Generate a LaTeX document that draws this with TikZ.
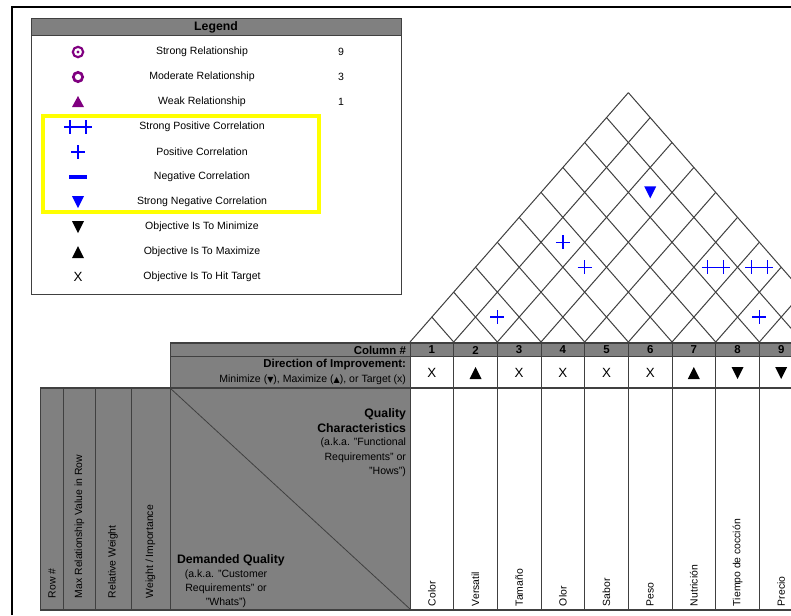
\documentclass[tikz,border=0pt]{standalone}
\usepackage{fontspec}
\setmainfont{Liberation Sans}
\newfontfamily\symfont{DejaVu Sans}
\definecolor{purp}{HTML}{800080}
\definecolor{cellgray}{HTML}{808080}
\definecolor{rulegray}{HTML}{404040}
\definecolor{hilite}{HTML}{FFFF00}
\definecolor{corr}{HTML}{0000FF}
\tikzset{
  strongrel/.pic={\draw[purp, line width=1.6pt] (0,0) circle[radius=3.9pt];
                  \fill[purp] (0,0) circle[radius=1.3pt];},
  modrel/.pic={\draw[purp, line width=2pt] (0,0) circle[radius=3.5pt];},
  weakrel/.pic={\fill[purp] (-6,5) -- (6,5) -- (0,-6) -- cycle;},
  dblplus/.pic={\draw[corr, line width=1pt] (-14,0) -- (14,0) (-8,-7) -- (-8,7) (8,-7) -- (8,7);},
  oneplus/.pic={\draw[corr, line width=1pt] (-7,0) -- (7,0) (0,-7) -- (0,7);},
  minusbar/.pic={\draw[corr, line width=2.4pt] (-9,0) -- (9,0);},
  bluedown/.pic={\fill[corr] (-6,-6) -- (6,-6) -- (0,6) -- cycle;},
  blackdown/.pic={\fill[black] (-6,-6) -- (6,-6) -- (0,6) -- cycle;},
  blackup/.pic={\fill[black] (-6,6) -- (6,6) -- (0,-6) -- cycle;},
  hitx/.pic={\node[font=\fontsize{10}{10}\selectfont] (-hx) at (0,0) {X};},
}
\begin{document}
\begin{tikzpicture}[x=0.75pt,y=-0.75pt,
  every node/.style={inner sep=0pt, outer sep=0pt},
  lgtext/.style={font=\fontsize{7.9}{9}\selectfont},
  hdbold/.style={font=\bfseries\fontsize{8.6}{9}\selectfont},
  bigbold/.style={font=\bfseries\fontsize{9.2}{10}\selectfont},
  smalltext/.style={font=\fontsize{7.9}{9}\selectfont},
  vlabel/.style={font=\fontsize{7.8}{9}\selectfont, rotate=90, anchor=west},
  thinrule/.style={draw=rulegray, line width=0.75pt},
  heavyrule/.style={draw=rulegray, line width=1.5pt},
  roofline/.style={draw=rulegray, line width=0.75pt},
]
\useasboundingbox (0,0) rectangle (791,615);
\fill[white] (0,0) rectangle (791,615);

% outer frame
\draw[black, line width=1.2pt] (12,615) -- (12,7) -- (791,7);

% ---------------- legend ----------------
\fill[cellgray] (31,18) rectangle (401,35);
\draw[thinrule] (31,18) rectangle (401,294);
\draw[thinrule] (31,35) -- (401,35);
\node[bigbold] (lghead) at (216,27) {Legend};

\foreach \yy/\sym/\txt/\num [count=\i] in {
  52/strongrel/Strong Relationship/9,
  77/modrel/Moderate Relationship/3,
  102/weakrel/Weak Relationship/1,
  127/dblplus/Strong Positive Correlation/,
  152/oneplus/Positive Correlation/,
  177/minusbar/Negative Correlation/,
  202/bluedown/Strong Negative Correlation/,
  227/blackdown/Objective Is To Minimize/,
  252/blackup/Objective Is To Maximize/,
  277/hitx/Objective Is To Hit Target/} {
  \pic (lgsym\i) at (78,\yy) {\sym};
  \node[lgtext] (lgtxt\i) at (202,\yy) {\txt};
  \node[lgtext] (lgnum\i) at (341,\yy) {\num};
}
\draw[hilite, line width=3pt] (43,116) rectangle (318.5,212);

% ---------------- roof (correlation matrix) ----------------
\def\cw{43.67}
\def\slope{1.142}
\begin{scope}
\clip (0,0) rectangle (791,615);
\foreach \k in {0,...,10} {
  \pgfmathsetmacro\xk{410+\k*\cw}
  \pgfmathsetmacro\xr{(\xk+410+10*\cw)/2}
  \pgfmathsetmacro\yr{342-(10-\k)*\cw/2*\slope}
  \pgfmathsetmacro\xl{(\xk+410)/2}
  \pgfmathsetmacro\yl{342-\k*\cw/2*\slope}
  \draw[roofline] (\xk,342) -- (\xr,\yr);
  \draw[roofline] (\xk,342) -- (\xl,\yl);
}
\foreach \ci/\cj/\sym in {3/9/bluedown, 2/6/oneplus, 3/6/oneplus, 6/9/dblplus,
                          7/10/dblplus, 2/3/oneplus, 8/9/oneplus} {
  \pgfmathsetmacro\px{410+(\ci+\cj-1)/2*\cw}
  \pgfmathsetmacro\py{342-(\cj-\ci)*\cw/2*\slope}
  \pic (corr\ci-\cj) at (\px,\py) {\sym};
}
\end{scope}

% ---------------- header rows ----------------
\fill[cellgray] (170,343) rectangle (791,356);
\fill[cellgray] (170,356) rectangle (410,387);
\fill[cellgray] (40,387) rectangle (410,610);

\begin{scope}
\clip (0,0) rectangle (791,615);
\foreach \k in {0,...,10} {
  \pgfmathsetmacro\xk{410+\k*\cw}
  \draw[thinrule] (\xk,343) -- (\xk,610);
}
\end{scope}
\draw[thinrule] (170,343) -- (170,610);
\foreach \xx in {40,63.5,95,131.5} {
  \draw[thinrule] (\xx,387) -- (\xx,610);
}
\draw[thinrule] (170,356) -- (791,356);
\draw[heavyrule] (170,343) -- (791,343);
\draw[heavyrule] (40,387.5) -- (791,387.5);
\draw[heavyrule] (40,610) -- (791,610);

\node[hdbold, anchor=east] (colhead) at (406,350) {Column \#};
\node[hdbold, anchor=east] (dirhead) at (406,364.5) {Direction of Improvement:};
\node[smalltext, anchor=east] (dirnote) at (406,380) {Minimize ({\symfont\fontsize{6}{7}\selectfont ▼}), Maximize ({\symfont\fontsize{6}{7}\selectfont ▲}), or Target (x)};

\foreach \n/\sym in {1/hitx,2/blackup,3/hitx,4/hitx,5/hitx,6/hitx,7/blackup,8/blackdown,9/blackdown} {
  \pgfmathsetmacro\cx{410+(\n-0.5)*\cw}
  \node[hdbold] (colnum\n) at (\cx,350) {\n};
  \pic (dir\n) at (\cx,373) {\sym};
}

% ---------------- corner cell ----------------
\draw[rulegray, line width=0.6pt] (170,388) -- (410,609);
\node[bigbold, anchor=east] (qc1) at (406,414) {Quality};
\node[bigbold, anchor=east] (qc2) at (406,428.5) {Characteristics};
\node[smalltext, anchor=east] (qc3) at (406,443) {(a.k.a. "Functional};
\node[smalltext, anchor=east] (qc4) at (406,457.5) {Requirements" or};
\node[smalltext, anchor=east] (qc5) at (406,472) {"Hows")};

\node[bigbold, anchor=west] (dq1) at (177,560) {Demanded Quality};
\node[smalltext] (dq2) at (226,575) {(a.k.a. "Customer};
\node[smalltext] (dq3) at (226,589) {Requirements" or};
\node[smalltext] (dq4) at (226,603) {"Whats")};

% ---------------- vertical labels ----------------
\node[vlabel] (rowno) at (52,598) {Row \#};
\node[vlabel] (maxrel) at (79.5,598) {Max Relationship Value in Row};
\node[vlabel] (relw) at (113,598) {Relative Weight};
\node[vlabel] (wimp) at (150.5,598) {Weight / Importance};

\foreach \n/\lab in {1/Color,2/Versatil,3/Tamaño,4/Olor,5/Sabor,6/Peso,7/Nutrición,8/Tiempo de cocción,9/Precio} {
  \pgfmathsetmacro\cx{410+(\n-0.5)*\cw}
  \node[vlabel] (how\n) at (\cx,606) {\lab};
}
\end{tikzpicture}
\end{document}
